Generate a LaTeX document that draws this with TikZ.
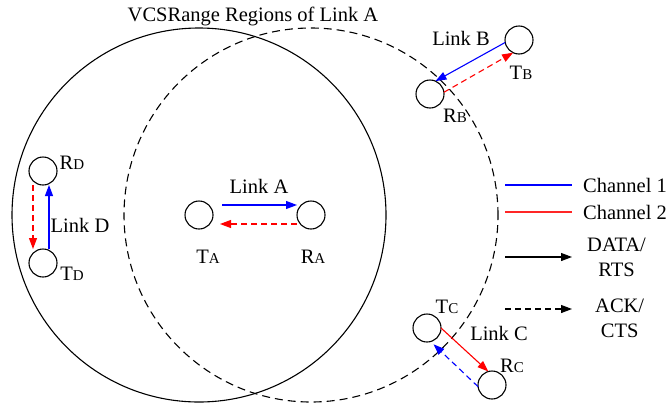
\documentclass[tikz,border=0pt]{standalone}
\usepackage{fontspec}
\setmainfont{Liberation Serif}
\usetikzlibrary{arrows.meta, positioning}

% small index letter after a station name
\newcommand{\stn}[1]{{\fontsize{15}{15}\selectfont #1}}

\begin{document}
\begin{tikzpicture}[
    x=1pt, y=-1pt,
    font=\fontsize{20.5}{25}\selectfont,
    sta/.style   = {circle, draw=black, line width=1.1pt, minimum size=28pt, inner sep=0pt, outer sep=0pt},
    vcs/.style   = {line width=1.1pt},
    ack/.style   = {dash pattern=on 6pt off 4pt},
    tip/.style   = {-{Triangle[length=11pt,width=8pt]}, line width=1.1pt},
    ch1/.style   = {tip, blue},
    ch2/.style   = {tip, red},
    lbl/.style   = {anchor=base, inner sep=0pt},
    key/.style   = {inner sep=0pt, align=center},
]
\useasboundingbox (0,0) rectangle (668,402);

% ---- stations ----
\node[sta] (tA) at (199,215) {};
\node[sta] (rA) at (311,215) {};
\node[sta] (tB) at (519,40)  {};
\node[sta] (rB) at (430,94)  {};
\node[sta] (tC) at (427,328) {};
\node[sta] (rC) at (492,385) {};
\node[sta] (rD) at (43,171)  {};
\node[sta] (tD) at (43,263)  {};

% ---- VCS ranges of link A (sender solid, receiver dashed) ----
\draw[vcs]                     (tA.center) circle[radius=187pt];
\draw[vcs, dash pattern=on 8pt off 5pt] (rA.center) circle[radius=187pt];
\node[lbl] (title) at (253,21) {VCSRange Regions of Link A};

% ---- link A ----
\draw[ch1, shorten <=9pt]             ([yshift=10pt]tA.east) -- ([yshift=10pt]rA.west);
\draw[ch2, ack, shorten >=7pt]        ([yshift=-9pt]rA.west) -- ([yshift=-9pt]tA.east);
\node[lbl] at (259,193) {Link A};
\node[lbl] at (208,263) {T\stn{A}};
\node[lbl] at (313,263) {R\stn{A}};

% ---- link B ----
\draw[ch1]      (tB.190) -- (rB.67);
\draw[ch2, ack] (rB.7)   -- (tB.245);
\node[lbl] at (461,45)  {Link B};
\node[lbl] at (521,79)  {T\stn{B}};
\node[lbl] at (455,122) {R\stn{B}};

% ---- link C ----
\draw[ch2]                      (tC.0)   -- (rC.105);
\draw[ch1, ack, shorten >=4pt]  (rC.187) -- (tC.285);
\node[lbl] at (447,313) {T\stn{C}};
\node[lbl] at (499,340) {Link C};
\node[lbl] at (512,372) {R\stn{C}};

% ---- link D ----
\draw[ch1]      ([xshift=6pt]tD.north)   -- ([xshift=6pt]rD.south);
\draw[ch2, ack] ([xshift=-10pt]rD.south) -- ([xshift=-10pt]tD.north);
\node[lbl] at (80,232) {Link D};
\node[lbl] at (72,169) {R\stn{D}};
\node[lbl] at (72,280) {T\stn{D}};

% ---- legend ----
\coordinate (k1) at (505,185); \coordinate (k1e) at (572,185);
\coordinate (k2) at (505,212); \coordinate (k2e) at (572,212);
\coordinate (k3) at (505,257); \coordinate (k3e) at (572,257);
\coordinate (k4) at (505,309); \coordinate (k4e) at (572,309);
\draw[line width=1.2pt, blue] (k1) -- (k1e);
\draw[line width=1.2pt, red!85]  (k2) -- (k2e);
\draw[tip]      (k3) -- (k3e);
\draw[tip, ack] (k4) -- (k4e);
\node[key, right=11pt of k1e] {Channel 1};
\node[key, right=11pt of k2e] {Channel 2};
\node[key, right=15pt of k3e] {DATA/\\RTS};
\node[key, right=23pt of k4e, yshift=-9pt] {ACK/\\CTS};

\end{tikzpicture}
\end{document}
